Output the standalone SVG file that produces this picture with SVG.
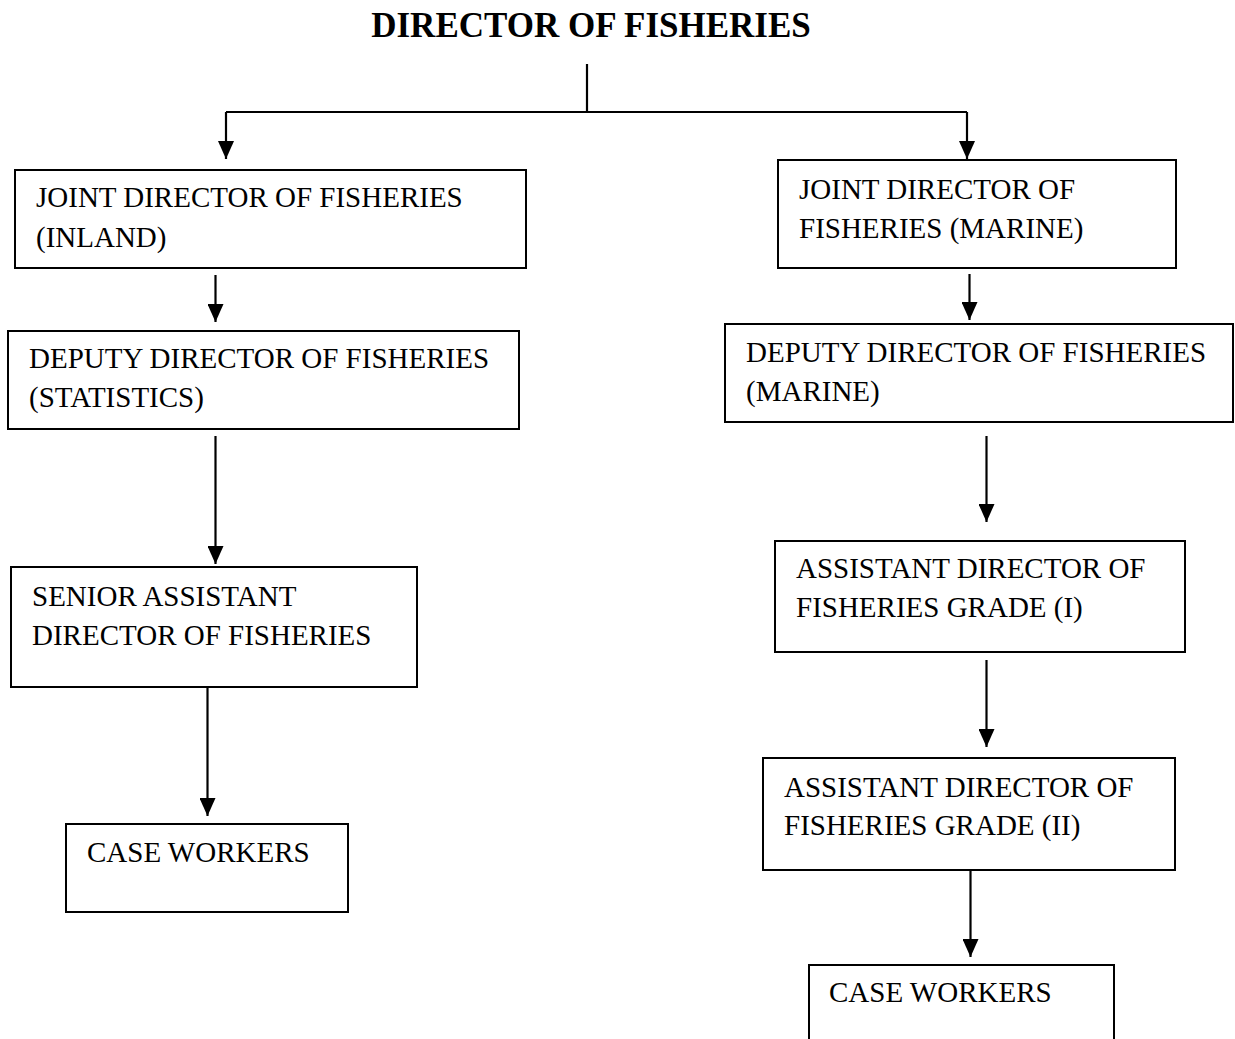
<svg xmlns="http://www.w3.org/2000/svg" width="1235" height="1039" viewBox="0 0 1235 1039">
<style>
.box{fill:#fff;stroke:#000;stroke-width:2}
.t{font-family:"Liberation Serif","Times New Roman",serif;font-size:29px;fill:#000}
.title{font-family:"Liberation Serif","Times New Roman",serif;font-size:35px;font-weight:bold;fill:#000}
.ln{fill:none;stroke:#000;stroke-width:2.2}
</style>
<defs>
<marker id="ah" viewBox="0 0 18 16" refX="18" refY="8" markerWidth="18" markerHeight="16" orient="auto" markerUnits="userSpaceOnUse">
<path d="M0,0 L18,8 L0,16 z" fill="#000"/>
</marker>
</defs>
<rect width="1235" height="1039" fill="#fff"/>
<g id="title"><text class="title" x="591" y="37" text-anchor="middle">DIRECTOR OF FISHERIES</text></g>
<g id="connectors">
<path class="ln" d="M587,64 V112 M226,112 H967"/>
<path class="ln" d="M226,112 V159" marker-end="url(#ah)"/>
<path class="ln" d="M967,112 V159" marker-end="url(#ah)"/>
<path class="ln" d="M215.5,275 V322" marker-end="url(#ah)"/>
<path class="ln" d="M969.5,274 V320" marker-end="url(#ah)"/>
<path class="ln" d="M215.5,436 V564" marker-end="url(#ah)"/>
<path class="ln" d="M986.5,436 V522" marker-end="url(#ah)"/>
<path class="ln" d="M207.5,687 V816" marker-end="url(#ah)"/>
<path class="ln" d="M986.5,660 V747" marker-end="url(#ah)"/>
<path class="ln" d="M970.5,870 V957" marker-end="url(#ah)"/>
</g>
<g id="joint-inland">
<rect class="box" x="15" y="170" width="511" height="98"/>
<text class="t" x="36" y="207">JOINT DIRECTOR OF FISHERIES</text>
<text class="t" x="36" y="247">(INLAND)</text>
</g>
<g id="joint-marine">
<rect class="box" x="778" y="160" width="398" height="108"/>
<text class="t" x="799" y="199">JOINT DIRECTOR OF</text>
<text class="t" x="799" y="238">FISHERIES (MARINE)</text>
</g>
<g id="deputy-statistics">
<rect class="box" x="8" y="331" width="511" height="98"/>
<text class="t" x="29" y="368">DEPUTY DIRECTOR OF FISHERIES</text>
<text class="t" x="29" y="407">(STATISTICS)</text>
</g>
<g id="deputy-marine">
<rect class="box" x="725" y="324" width="508" height="98"/>
<text class="t" x="746" y="362">DEPUTY DIRECTOR OF FISHERIES</text>
<text class="t" x="746" y="401">(MARINE)</text>
</g>
<g id="senior-assistant">
<rect class="box" x="11" y="567" width="406" height="120"/>
<text class="t" x="32" y="606">SENIOR ASSISTANT</text>
<text class="t" x="32" y="645">DIRECTOR OF FISHERIES</text>
</g>
<g id="assistant-grade-1">
<rect class="box" x="775" y="541" width="410" height="111"/>
<text class="t" x="796" y="578">ASSISTANT DIRECTOR OF</text>
<text class="t" x="796" y="617">FISHERIES GRADE (I)</text>
</g>
<g id="case-workers-left">
<rect class="box" x="66" y="824" width="282" height="88"/>
<text class="t" x="87" y="862">CASE WORKERS</text>
</g>
<g id="assistant-grade-2">
<rect class="box" x="763" y="758" width="412" height="112"/>
<text class="t" x="784" y="797">ASSISTANT DIRECTOR OF</text>
<text class="t" x="784" y="835">FISHERIES GRADE (II)</text>
</g>
<g id="case-workers-right">
<rect class="box" x="809" y="965" width="305" height="90"/>
<text class="t" x="829" y="1002">CASE WORKERS</text>
</g>
</svg>
